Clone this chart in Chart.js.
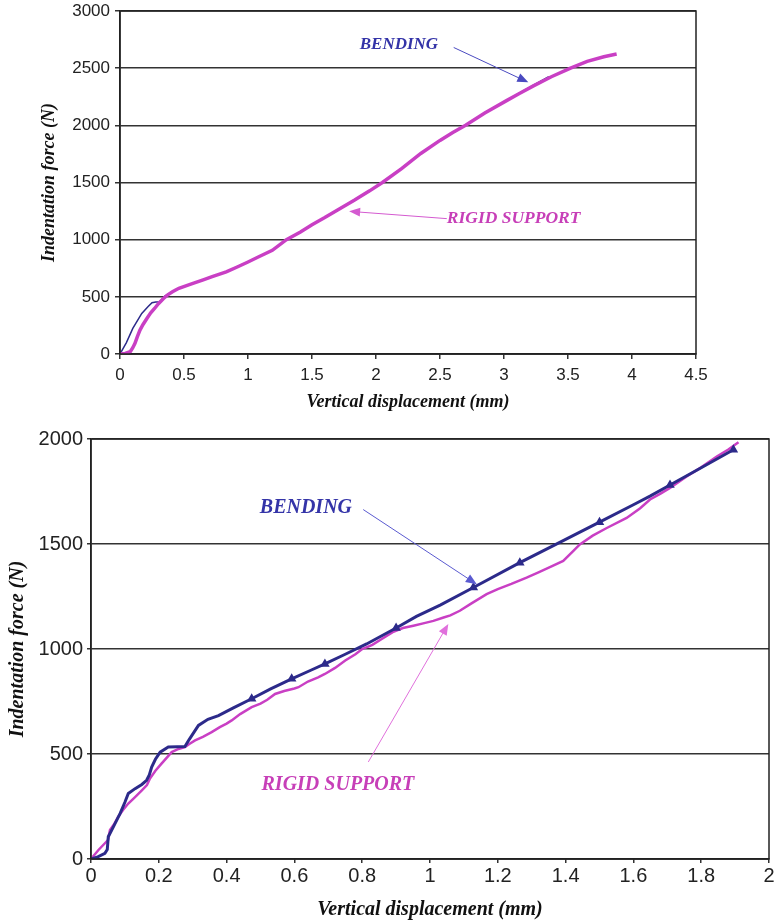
<!DOCTYPE html>
<html>
<head>
<meta charset="utf-8">
<script src="https://cdn.jsdelivr.net/npm/chart.js@4"></script>
<style>
  body { margin: 0; background: #fff; }
  canvas { display: block; }
</style>
</head>
<body>
<canvas id="topChart" width="777" height="420"></canvas>
<canvas id="bottomChart" width="777" height="504"></canvas>
<script>
// top chart: full test
const topBendX = [0, 0.05, 0.10, 0.17, 0.22, 0.25, 0.28, 0.31, 0.35, 0.44, 0.52, 0.57, 0.65, 0.72, 0.83, 0.92, 1.0, 1.08, 1.19, 1.30, 1.41, 1.5, 1.6, 1.7, 1.83, 1.95, 2.05, 2.2, 2.35, 2.5, 2.6, 2.7, 2.85, 3.02, 3.12, 3.23, 3.35];
const topBendY = [0, 100, 224, 355, 415, 448, 455, 456, 506, 565, 600, 617, 650, 675, 718, 765, 805, 850, 907, 1000, 1067, 1128, 1195, 1258, 1344, 1425, 1500, 1625, 1754, 1870, 1935, 2000, 2110, 2216, 2282, 2352, 2425];

const topRigidX = [0, 0.04, 0.08, 0.10, 0.117, 0.135, 0.156, 0.18, 0.21, 0.24, 0.27, 0.30, 0.34, 0.37, 0.41, 0.46, 0.52, 0.57, 0.65, 0.72, 0.83, 0.92, 1.0, 1.08, 1.19, 1.30, 1.41, 1.5, 1.6, 1.7, 1.83, 1.95, 2.05, 2.2, 2.35, 2.5, 2.6, 2.7, 2.85, 3.02, 3.12, 3.23, 3.37, 3.52, 3.65, 3.78, 3.88];
const topRigidY = [0, 5, 20, 55, 93, 150, 209, 258, 311, 360, 398, 440, 486, 515, 544, 575, 598, 617, 648, 676, 718, 763, 805, 848, 907, 1000, 1067, 1130, 1193, 1260, 1344, 1427, 1500, 1622, 1754, 1868, 1937, 2000, 2108, 2216, 2278, 2345, 2425, 2500, 2560, 2600, 2624];

const topXTicks = ["0", "0.5", "1", "1.5", "2", "2.5", "3", "3.5", "4", "4.5"];
const topYTicks = ["0", "500", "1000", "1500", "2000", "2500", "3000"];

// bottom chart: zoom on the first 2 mm
const botBendX = [0, 0.02, 0.041, 0.048, 0.051, 0.066, 0.086, 0.10, 0.11, 0.13, 0.15, 0.164, 0.172, 0.179, 0.19, 0.204, 0.228, 0.255, 0.277, 0.29, 0.317, 0.345, 0.376, 0.42, 0.474, 0.53, 0.592, 0.65, 0.69, 0.75, 0.813, 0.90, 0.96, 1.03, 1.128, 1.265, 1.364, 1.50, 1.60, 1.649, 1.708, 1.80, 1.895];
const botBendY = [0, 10, 27, 45, 106, 153, 217, 270, 312, 335, 355, 375, 400, 438, 475, 509, 533, 535, 536, 570, 636, 665, 683, 720, 763, 810, 858, 900, 929, 975, 1024, 1100, 1155, 1209, 1293, 1411, 1492, 1604, 1687, 1728, 1781, 1863, 1949];
const botBendMarks = [0.474, 0.592, 0.69, 0.90, 1.128, 1.265, 1.50, 1.708, 1.895];

const botRigidX = [0, 0.022, 0.041, 0.05, 0.056, 0.068, 0.08, 0.095, 0.11, 0.13, 0.15, 0.165, 0.174, 0.19, 0.208, 0.225, 0.238, 0.255, 0.277, 0.29, 0.307, 0.33, 0.356, 0.38, 0.40, 0.415, 0.44, 0.474, 0.50, 0.52, 0.543, 0.57, 0.60, 0.612, 0.64, 0.67, 0.69, 0.72, 0.75, 0.78, 0.80, 0.83, 0.86, 0.89, 0.92, 0.951, 0.98, 1.01, 1.04, 1.06, 1.088, 1.12, 1.167, 1.20, 1.24, 1.285, 1.32, 1.36, 1.393, 1.42, 1.442, 1.48, 1.52, 1.58, 1.62, 1.649, 1.68, 1.708, 1.757, 1.80, 1.846, 1.88, 1.91];
const botRigidY = [0, 43, 75, 90, 138, 165, 201, 235, 264, 295, 327, 352, 383, 420, 454, 485, 509, 522, 533, 548, 565, 582, 604, 628, 645, 660, 690, 723, 740, 758, 786, 800, 812, 818, 845, 865, 881, 910, 945, 975, 1000, 1020, 1050, 1080, 1100, 1111, 1122, 1134, 1150, 1160, 1182, 1215, 1261, 1285, 1310, 1340, 1365, 1395, 1419, 1462, 1498, 1540, 1575, 1624, 1670, 1712, 1740, 1767, 1822, 1865, 1917, 1950, 1985];

const botXTicks = ["0", "0.2", "0.4", "0.6", "0.8", "1", "1.2", "1.4", "1.6", "1.8", "2"];
const botYTicks = ["0", "500", "1000", "1500", "2000"];

const blue = "#2c2a8a";
const magenta = "#c93fc4";
const labelBlue = "#3434a8";
const labelMagenta = "#c73fb8";

const pts = (xs, ys) => xs.map((x, i) => ({ x: x, y: ys[i] }));

// box round the plot area + the arrows and their labels
const frameAndNotes = {
  id: "frameAndNotes",
  afterDraw(chart, args, opts) {
    const { ctx, chartArea: a } = chart;
    const sx = chart.scales.x;
    const sy = chart.scales.y;
    ctx.save();
    ctx.strokeStyle = "#222";
    ctx.lineWidth = 1.5;
    ctx.strokeRect(a.left, a.top, a.right - a.left, a.bottom - a.top);

    (opts.arrows || []).forEach(ar => {
      const x1 = sx.getPixelForValue(ar.from[0]);
      const y1 = sy.getPixelForValue(ar.from[1]);
      const x2 = sx.getPixelForValue(ar.to[0]);
      const y2 = sy.getPixelForValue(ar.to[1]);
      const ang = Math.atan2(y2 - y1, x2 - x1);
      ctx.strokeStyle = ar.color;
      ctx.fillStyle = ar.color;
      ctx.lineWidth = 1;
      ctx.beginPath();
      ctx.moveTo(x1, y1);
      ctx.lineTo(x2 - Math.cos(ang) * 6, y2 - Math.sin(ang) * 6);
      ctx.stroke();
      ctx.beginPath();
      ctx.moveTo(x2, y2);
      ctx.lineTo(x2 - Math.cos(ang) * 11 + Math.sin(ang) * 4.5, y2 - Math.sin(ang) * 11 - Math.cos(ang) * 4.5);
      ctx.lineTo(x2 - Math.cos(ang) * 11 - Math.sin(ang) * 4.5, y2 - Math.sin(ang) * 11 + Math.cos(ang) * 4.5);
      ctx.closePath();
      ctx.fill();
    });

    (opts.labels || []).forEach(l => {
      ctx.font = "italic bold " + l.size + "px 'Liberation Serif', 'Times New Roman', serif";
      ctx.fillStyle = l.color;
      ctx.textAlign = l.align;
      ctx.textBaseline = "middle";
      ctx.fillText(l.text, sx.getPixelForValue(l.at[0]), sy.getPixelForValue(l.at[1]));
    });
    ctx.restore();
  }
};

function makeChart(id, cfg) {
  const tickFont = { family: "'Liberation Sans', Arial, sans-serif", size: cfg.tickSize };
  const titleFont = { family: "'Liberation Serif', 'Times New Roman', serif", size: cfg.titleSize, style: "italic", weight: "bold" };

  return new Chart(document.getElementById(id), {
    type: "line",
    data: {
      datasets: cfg.datasets
    },
    plugins: [frameAndNotes],
    options: {
      responsive: false,
      animation: false,
      layout: {
        padding: { left: 0, top: cfg.padTop, right: cfg.padRight, bottom: 0 }
      },
      elements: {
        point: { radius: 0 },
        line: { tension: 0 }
      },
      plugins: {
        legend: { display: false },
        tooltip: { enabled: false },
        frameAndNotes: { arrows: cfg.arrows, labels: cfg.labels }
      },
      scales: {
        x: {
          type: "linear",
          min: 0,
          max: cfg.xMax,
          afterFit: s => { s.height = cfg.xHeight; },
          ticks: {
            stepSize: cfg.xStep,
            autoSkip: false,
            maxRotation: 0,
            color: "#222",
            font: tickFont,
            padding: cfg.xTickPad,
            callback: (v, i) => cfg.xTicks[i]
          },
          grid: {
            drawOnChartArea: false,
            drawTicks: true,
            tickLength: cfg.tickLen,
            color: "#333",
            lineWidth: 1.5
          },
          border: { color: "#222", width: 1.5 },
          title: {
            display: true,
            text: "Vertical displacement (mm)",
            color: "#111",
            font: titleFont,
            padding: { top: 0, bottom: cfg.xTitlePad }
          }
        },
        y: {
          min: 0,
          max: cfg.yMax,
          afterFit: s => {
            s.width = cfg.yWidth;
            s.paddingTop = 0;
            s.paddingBottom = 0;
          },
          ticks: {
            stepSize: 500,
            color: "#222",
            font: tickFont,
            padding: cfg.yTickPad,
            callback: (v, i) => cfg.yTicks[i]
          },
          grid: {
            color: "#333",
            lineWidth: 1.5,
            tickLength: cfg.tickLen
          },
          border: { color: "#222", width: 1.5 },
          title: {
            display: true,
            text: "Indentation force (N)",
            color: "#111",
            font: titleFont,
            padding: { top: cfg.yTitlePad, bottom: 0 }
          }
        }
      }
    }
  });
}

makeChart("topChart", {
  datasets: [
    { label: "RIGID SUPPORT", data: pts(topRigidX, topRigidY), borderColor: magenta, borderWidth: 3.5 },
    { label: "BENDING", data: pts(topBendX, topBendY), borderColor: blue, borderWidth: 1.5 }
  ],
  xMax: 4.5, xStep: 0.5, yMax: 3000,
  xTicks: topXTicks, yTicks: topYTicks,
  tickSize: 17, titleSize: 18,
  padTop: 11, padRight: 81,
  xHeight: 66, yWidth: 120,
  tickLen: 5, xTickPad: 6, yTickPad: 5,
  xTitlePad: 7, yTitlePad: 39,
  arrows: [
    { from: [2.607, 2681], to: [3.19, 2376], color: "#4a4ac0" },
    { from: [2.553, 1184], to: [1.79, 1248], color: "#d45ad0" }
  ],
  labels: [
    { text: "BENDING", at: [1.873, 2705], align: "left", color: labelBlue, size: 17 },
    { text: "RIGID SUPPORT", at: [2.553, 1184], align: "left", color: labelMagenta, size: 17.5 }
  ]
});

makeChart("bottomChart", {
  datasets: [
    {
      label: "BENDING",
      data: pts(botBendX, botBendY),
      borderColor: blue,
      backgroundColor: blue,
      borderWidth: 3,
      pointStyle: "triangle",
      pointRadius: c => (c.raw && botBendMarks.includes(c.raw.x) ? 2.5 : 0)
    },
    { label: "RIGID SUPPORT", data: pts(botRigidX, botRigidY), borderColor: magenta, borderWidth: 2.5 }
  ],
  xMax: 2, xStep: 0.2, yMax: 2000,
  xTicks: botXTicks, yTicks: botYTicks,
  tickSize: 20, titleSize: 20,
  padTop: 19, padRight: 8,
  xHeight: 65, yWidth: 91,
  tickLen: 4, xTickPad: 1, yTickPad: 4,
  xTitlePad: 2, yTitlePad: 6,
  arrows: [
    { from: [0.803, 1664], to: [1.138, 1308], color: "#5a5ad0" },
    { from: [0.818, 462], to: [1.054, 1119], color: "#e070dc" }
  ],
  labels: [
    { text: "BENDING", at: [0.77, 1670], align: "right", color: labelBlue, size: 20 },
    { text: "RIGID SUPPORT", at: [0.503, 352], align: "left", color: labelMagenta, size: 20 }
  ]
});
</script>
</body>
</html>
